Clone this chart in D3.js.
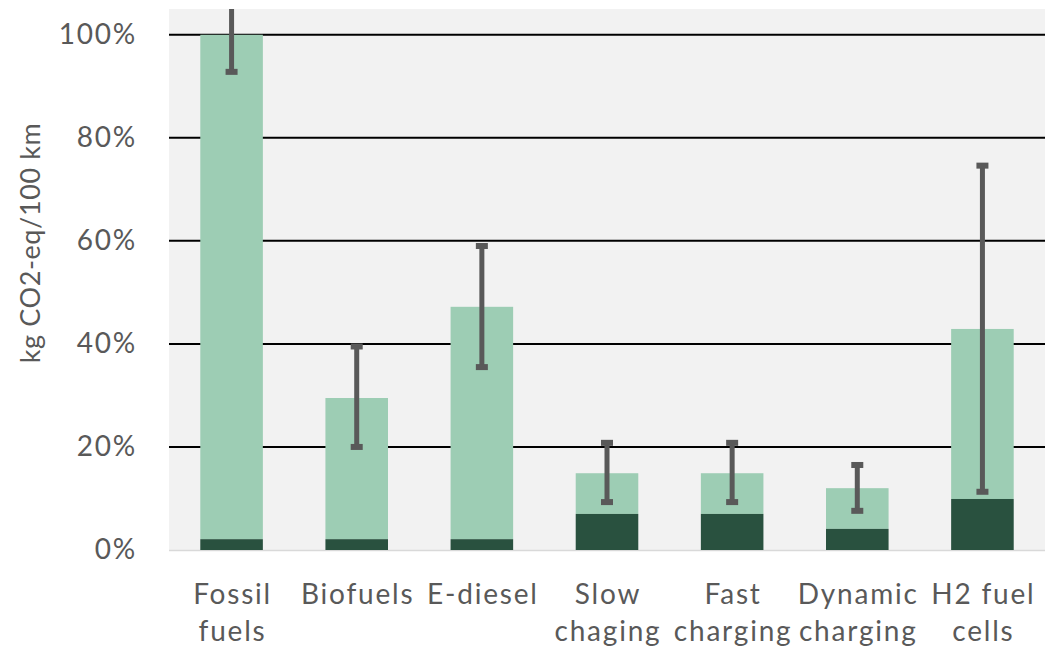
<!DOCTYPE html>
<html>
<head>
<meta charset="utf-8">
<script src="https://cdn.jsdelivr.net/npm/d3@7"></script>
<style>
  body { margin: 0; background: #fff; }
  svg text { font-family: Lato, 'Open Sans', sans-serif; fill: #595959; }
</style>
</head>
<body>
<div id="chart"></div>
<script>
const categories = ['Fossil fuels', 'Biofuels', 'E-diesel', 'Slow chaging', 'Fast charging', 'Dynamic charging', 'H2 fuel cells']
const labelLines = [['Fossil', 'fuels'], ['Biofuels'], ['E-diesel'], ['Slow', 'chaging'], ['Fast', 'charging'], ['Dynamic', 'charging'], ['H2 fuel', 'cells']]
const baseValues = [0.021, 0.021, 0.021, 0.07, 0.07, 0.041, 0.099]
const totalValues = [1.0, 0.295, 0.472, 0.149, 0.149, 0.12, 0.429]
const errLow = [0.928, 0.20, 0.355, 0.093, 0.093, 0.076, 0.113]
const errHigh = [1.07, 0.395, 0.59, 0.208, 0.208, 0.165, 0.746]
const yTicks = [0, 0.2, 0.4, 0.6, 0.8, 1.0]

const margin = { top: 9, right: 15, bottom: 102, left: 169 }
const width = 1060 - margin.left - margin.right
const height = 652 - margin.top - margin.bottom

const svg = d3.select('#chart')
  .append('svg')
  .attr('width', 1060)
  .attr('height', 652)

const g = svg.append('g')
  .attr('transform', `translate(${margin.left},${margin.top})`)

const x = d3.scaleBand()
  .domain(categories)
  .range([0, width])
  .paddingInner(0.5)
  .paddingOuter(0.25)

const y = d3.scaleLinear()
  .domain([0, 1.05])
  .range([height, 0])

// plot background
g.append('rect')
  .attr('width', width)
  .attr('height', height)
  .attr('fill', '#f2f2f2')

g.append('clipPath')
  .attr('id', 'plot-clip')
  .append('rect')
  .attr('width', width)
  .attr('height', height)

// gridlines
g.selectAll('.grid')
  .data(yTicks.filter(d => d > 0))
  .enter().append('line')
  .attr('x1', 0)
  .attr('x2', width)
  .attr('y1', d => y(d))
  .attr('y2', d => y(d))
  .attr('stroke', '#000')
  .attr('stroke-width', 2)

// baseline
g.append('line')
  .attr('x1', 0)
  .attr('x2', width)
  .attr('y1', height + 0.5)
  .attr('y2', height + 0.5)
  .attr('stroke', '#d9d9d9')
  .attr('stroke-width', 1.5)

// y labels
const yAxis = g.append('g')
  .attr('transform', 'translate(-29,0)')
  .call(d3.axisLeft(y).tickValues(yTicks).tickFormat(d3.format('.0%')).tickSize(0))
yAxis.select('.domain').remove()
yAxis.selectAll('text')
  .attr('font-size', 28)
  .attr('font-family', 'Lato, sans-serif')
  .attr('fill', '#595959')
  .style('letter-spacing', '1.8px')

svg.append('text')
  .attr('transform', `translate(40,243) rotate(-90)`)
  .attr('text-anchor', 'middle')
  .attr('font-size', 27)
  .style('letter-spacing', '0.6px')
  .text('kg CO2-eq/100 km')

// stacked bars
const rows = categories.map((c, i) => ({
  cat: c, base: baseValues[i], total: totalValues[i], lo: errLow[i], hi: errHigh[i]
}))

g.selectAll('.bar-top')
  .data(rows)
  .enter().append('rect')
  .attr('x', d => x(d.cat))
  .attr('width', x.bandwidth())
  .attr('y', d => y(d.total))
  .attr('height', d => y(d.base) - y(d.total))
  .attr('fill', '#9dcdb4')

g.selectAll('.bar-base')
  .data(rows)
  .enter().append('rect')
  .attr('x', d => x(d.cat))
  .attr('width', x.bandwidth())
  .attr('y', d => y(d.base))
  .attr('height', d => y(0) - y(d.base))
  .attr('fill', '#29513f')

// error bars
const err = g.append('g').attr('clip-path', 'url(#plot-clip)')
const cx = d => x(d.cat) + x.bandwidth() / 2
err.selectAll('.err')
  .data(rows)
  .enter().append('line')
  .attr('x1', cx)
  .attr('x2', cx)
  .attr('y1', d => y(d.lo))
  .attr('y2', d => y(d.hi))
  .attr('stroke', '#595959')
  .attr('stroke-width', 5)
err.selectAll('.cap-lo')
  .data(rows)
  .enter().append('rect')
  .attr('x', d => cx(d) - 6)
  .attr('y', d => y(d.lo) - 3)
  .attr('width', 12)
  .attr('height', 6)
  .attr('fill', '#595959')
err.selectAll('.cap-hi')
  .data(rows)
  .enter().append('rect')
  .attr('x', d => cx(d) - 6)
  .attr('y', d => y(d.hi) - 3)
  .attr('width', 12)
  .attr('height', 6)
  .attr('fill', '#595959')

// x labels
const xl = g.selectAll('.xlabel')
  .data(rows)
  .enter().append('text')
  .attr('text-anchor', 'middle')
  .attr('font-size', 28)
  .style('letter-spacing', '1.8px')
  .attr('x', cx)
  .attr('y', 604 - margin.top)
xl.selectAll('tspan')
  .data((d, i) => labelLines[i])
  .enter().append('tspan')
  .attr('x', function () { return +d3.select(this.parentNode).attr('x') + 1 })
  .attr('dy', (d, i) => i === 0 ? 0 : 37)
  .text(d => d)
</script>
</body>
</html>
